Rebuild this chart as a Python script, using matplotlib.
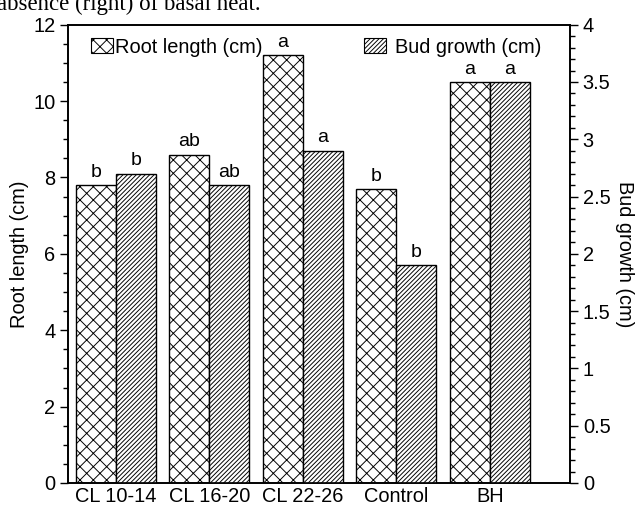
import matplotlib.pyplot as plt
from matplotlib.patches import Patch
from matplotlib.ticker import MultipleLocator
import numpy as np

# saved at dpi 80 so the hatch cells come out close to the original size
plt.rcParams['font.family'] = ['Liberation Sans', 'DejaVu Sans']
plt.rcParams['hatch.linewidth'] = 0.85

groups = ['CL 10-14', 'CL 16-20', 'CL 22-26', 'Control', 'BH']
root_len = [7.8, 8.6, 11.2, 7.7, 10.5]
bud_growth = [2.7, 2.6, 2.9, 1.9, 3.5]
root_sig = ['b', 'ab', 'a', 'b', 'a']
bud_sig = ['b', 'ab', 'a', 'b', 'a']

x = np.arange(len(groups))
w = 0.428
root_hatch = 'xx'
bud_hatch = '//////'

fig = plt.figure(figsize=(637 / 80, 506 / 80), dpi=80)
ax = fig.add_axes([0.1068, 0.0455, 0.788, 0.9057])
ax2 = ax.twinx()

ax.bar(x - w / 2, root_len, w, color='white', edgecolor='black', hatch=root_hatch, linewidth=1.25)
ax2.bar(x + w / 2, bud_growth, w, color='white', edgecolor='black', hatch=bud_hatch, linewidth=1.25)

for xi, v, s in zip(x, root_len, root_sig):
    ax.text(xi - w / 2, v + 0.22, s, ha='center', va='baseline', fontsize=17.5)
for xi, v, s in zip(x, bud_growth, bud_sig):
    ax2.text(xi + w / 2, v + 0.22 / 3, s, ha='center', va='baseline', fontsize=17.5)

ax.set_xlim(-0.513, 4.856)
ax.set_ylim(0, 12)
ax2.set_ylim(0, 4)
ax.set_xticks(x)
ax.set_xticklabels(groups, fontsize=18)
ax.tick_params(axis='x', length=0, pad=4)

ax.yaxis.set_major_locator(MultipleLocator(2))
ax.yaxis.set_minor_locator(MultipleLocator(0.5))
ax2.set_yticks(np.arange(0, 4.01, 0.5))
ax2.set_yticklabels(['0', '0.5', '1', '1.5', '2', '2.5', '3', '3.5', '4'])
ax2.yaxis.set_minor_locator(MultipleLocator(0.1))

for a in (ax, ax2):
    a.tick_params(axis='y', which='major', direction='out', length=7.5, width=1.25, labelsize=18, pad=4)
    a.tick_params(axis='y', which='minor', direction='out', length=4.4, width=1.25)
    for sp in a.spines.values():
        sp.set_linewidth(1.5)

ax.set_ylabel('Root length (cm)', fontsize=18, labelpad=4)
ax2.set_ylabel('Bud growth (cm)', fontsize=18, rotation=270, labelpad=21)

h_root = Patch(facecolor='white', edgecolor='black', hatch=root_hatch, linewidth=1.0, label='Root length (cm)')
h_bud = Patch(facecolor='white', edgecolor='black', hatch=bud_hatch, linewidth=1.0, label='Bud growth (cm)')
ax.legend(handles=[h_root], loc='upper left', bbox_to_anchor=(0.02, 1.0), frameon=False,
          fontsize=18, handlelength=1.1, handleheight=0.75, handletextpad=0.1, borderaxespad=0.25)
ax2.legend(handles=[h_bud], loc='upper left', bbox_to_anchor=(0.563, 1.0), frameon=False,
           fontsize=18, handlelength=1.1, handleheight=0.75, handletextpad=0.45, borderaxespad=0.25)

fig.text(-0.005, 0.980, 'absence (right) of basal heat.', family=['Liberation Serif', 'DejaVu Serif'],
         fontsize=20.6, ha='left', va='baseline')

fig.savefig('out.png', dpi=80)
